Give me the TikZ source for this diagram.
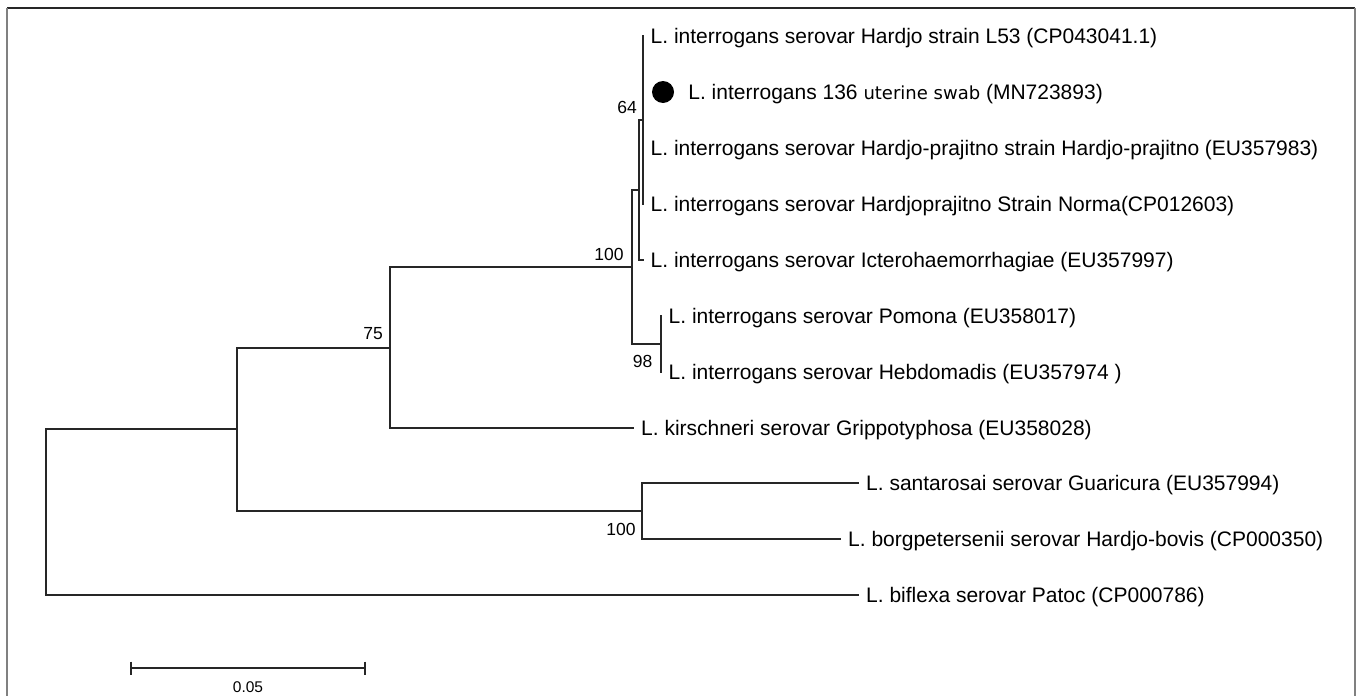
\documentclass[tikz,border=0pt]{standalone}
\usepackage{fontspec}
\setmainfont{Liberation Sans}
\newfontfamily\swabfont{DejaVu Sans}
\begin{document}
\begin{tikzpicture}[x=1pt,y=-1pt,
  br/.style={line width=2pt, draw=black!85, line cap=rect},
  tiplab/.style={anchor=base west, inner sep=0pt, font=\fontsize{21}{25}\selectfont, yshift=-7.5pt, xshift=8pt},
  boot/.style={inner sep=0pt, font=\fontsize{17.5}{20}\selectfont},
  frameline/.style={line width=1.6pt},
]
\useasboundingbox (0,0) rectangle (1363,696);
% frame
\draw[frameline, draw=black!85] (7,8) -- (1355,8);
\draw[frameline, draw=black!50] (7,8) -- (7,700);
\draw[frameline, draw=black!50] (1355,8) -- (1355,700);

% internal nodes
\coordinate (root) at (46,512);
\coordinate (D) at (236.5,429);
\coordinate (N75) at (390,347.5);
\coordinate (A) at (632,267);
\coordinate (B) at (639,190);
\coordinate (C) at (642.5,120);
\coordinate (P) at (660.5,344);
\coordinate (S) at (641.5,511);
% tips
\coordinate (t1) at (642.5,36);
\coordinate (t2) at (642.5,92);
\coordinate (t3) at (642.5,148);
\coordinate (t4) at (642.5,204);
\coordinate (t5) at (642.5,260);
\coordinate (t6) at (660.5,316);
\coordinate (t7) at (660.5,372);
\coordinate (t8) at (633,428);
\coordinate (t9) at (858,483);
\coordinate (t10) at (840,539);
\coordinate (t11) at (858,595);

% branches
\draw[br] (root) |- (D);
\draw[br] (root) |- (t11);
\draw[br] (D) |- (N75);
\draw[br] (D) |- (S);
\draw[br] (N75) |- (A);
\draw[br] (N75) |- (t8);
\draw[br] (A) |- (B);
\draw[br] (A) |- (P);
\draw[br] (B) |- (C);
\draw[br] (B) |- (t5);
\draw[br] (C) |- (t1);
\draw[br] (C) |- (t4);
\draw[br] (P) |- (t6);
\draw[br] (P) |- (t7);
\draw[br] (S) |- (t9);
\draw[br] (S) |- (t10);

% tip labels
\node[tiplab] (l1) at (t1) {L. interrogans serovar Hardjo strain L53 (CP043041.1)};
\node[circle, fill=black, inner sep=0pt, minimum size=22pt] (dot) at (663,92) {};
\node[tiplab, xshift=6pt] (l2) at (dot.east |- t2) {L. interrogans 136 {\swabfont\fontsize{18}{20}\selectfont uterine swab} (MN723893)};
\node[tiplab] (l3) at (t3) {L. interrogans serovar Hardjo-prajitno strain Hardjo-prajitno (EU357983)};
\node[tiplab] (l4) at (t4) {L. interrogans serovar Hardjoprajitno Strain Norma(CP012603)};
\node[tiplab] (l5) at (t5) {L. interrogans serovar Icterohaemorrhagiae (EU357997)};
\node[tiplab] (l6) at (t6) {L. interrogans serovar Pomona (EU358017)};
\node[tiplab] (l7) at (t7) {L. interrogans serovar Hebdomadis (EU357974 )};
\node[tiplab] (l8) at (t8) {L. kirschneri serovar Grippotyphosa (EU358028)};
\node[tiplab] (l9) at (t9) {L. santarosai serovar Guaricura (EU357994)};
\node[tiplab] (l10) at (t10) {L. borgpetersenii serovar Hardjo-bovis (CP000350)};
\node[tiplab] (l11) at (t11) {L. biflexa serovar Patoc (CP000786)};

% bootstrap values
\node[boot] (b64) at (627,107) {64};
\node[boot] (b100a) at (609,254) {100};
\node[boot] (b98) at (642.5,361) {98};
\node[boot] (b75) at (373,334) {75};
\node[boot] (b100s) at (621,529.5) {100};

% scale bar
\coordinate (sbL) at (131,668);
\coordinate (sbR) at (365,668);
\draw[br, line cap=butt] (sbL) -- (sbR);
\draw[br, line cap=butt] ([yshift=6.5pt]sbL) -- ([yshift=-6.5pt]sbL);
\draw[br, line cap=butt] ([yshift=6.5pt]sbR) -- ([yshift=-6.5pt]sbR);
\node[inner sep=0pt, font=\fontsize{15.5}{18}\selectfont] (sblab) at (248,687) {0.05};
\end{tikzpicture}
\end{document}
